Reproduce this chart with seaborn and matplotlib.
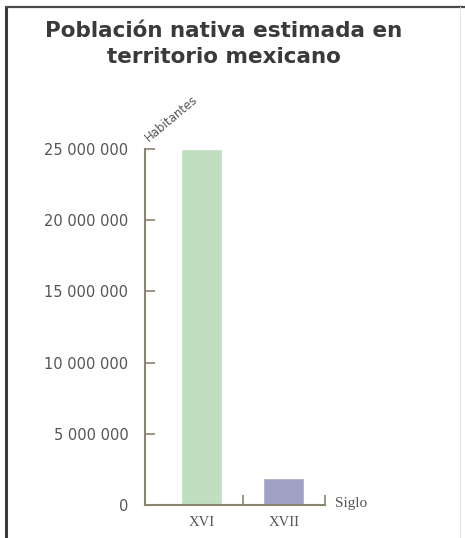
import matplotlib
matplotlib.use("Agg")
import matplotlib.pyplot as plt
from matplotlib.lines import Line2D
import seaborn as sns
import pandas as pd

categories = ["XVI", "XVII"]
values = [25000000, 1900000]
bar_colors = ["#bfdfc0", "#a1a1c5"]
ytick_values = [0, 5000000, 10000000, 15000000, 20000000, 25000000]
ytick_labels = ["0", "5 000 000", "10 000 000", "15 000 000", "20 000 000", "25 000 000"]
title = "Población nativa estimada en\nterritorio mexicano"
ylabel = "Habitantes"
xlabel = "Siglo"

sns.set_style("white")
plt.rcParams['font.family'] = ['DejaVu Sans']

df = pd.DataFrame({"siglo": categories, "hab": values})

fig = plt.figure(figsize=(4.65, 5.38), dpi=100)
ax = fig.add_axes([145/465, 1-505/538, (325-145)/465, (505-149)/538])

sns.barplot(data=df, x="siglo", y="hab", hue="siglo", palette=bar_colors,
            width=0.5, ax=ax, legend=False, saturation=1)

ax.set_xlim(-0.685, 1.5)
ax.set_ylim(0, 25000000)
ax.set_xlabel("")
ax.set_ylabel("")

axis_col = "#8a8470"
for s in ["top", "right"]:
    ax.spines[s].set_visible(False)
for s in ["left", "bottom"]:
    ax.spines[s].set_color(axis_col)
    ax.spines[s].set_linewidth(1.5)

ax.set_yticks(ytick_values)
ax.set_yticklabels(ytick_labels, fontsize=10.5, color="#555555")
ax.tick_params(axis="y", left=True, direction="in", length=7, width=1.2,
               color=axis_col, pad=12)

ax.set_xticks([0, 1])
ax.set_xticklabels(categories, fontsize=10.5, color="#555555", family="Liberation Serif")
ax.tick_params(axis="x", which="major", bottom=True, length=0, pad=8)
ax.set_xticks([0.5, 1.5], minor=True)
ax.tick_params(axis="x", which="minor", bottom=True, direction="in", length=7,
               width=1.2, color=axis_col)

fig.text(224/465, 1-44/538, title, ha="center", va="center", fontsize=15.5,
         color="#3a3a3a", fontweight="bold", linespacing=1.38)
fig.text(171/465, 1-119/538, ylabel, ha="center", va="center", rotation=40,
         fontsize=8.5, color="#555555")
fig.text(335/465, 1-503/538, xlabel, ha="left", va="center", fontsize=11,
         color="#555555", family="Liberation Serif")

# page frame
fig.add_artist(Line2D([5.5/465, 5.5/465], [0, 1-7/538], transform=fig.transFigure,
                      color="#3a3a3a", lw=2.2))
fig.add_artist(Line2D([5.5/465, 1], [1-7/538, 1-7/538], transform=fig.transFigure,
                      color="#4a4a4a", lw=1.6))
fig.add_artist(Line2D([460/465, 460/465], [0, 1-7/538], transform=fig.transFigure,
                      color="#e6e6e6", lw=0.8))

fig.savefig("out.png", dpi=100)
